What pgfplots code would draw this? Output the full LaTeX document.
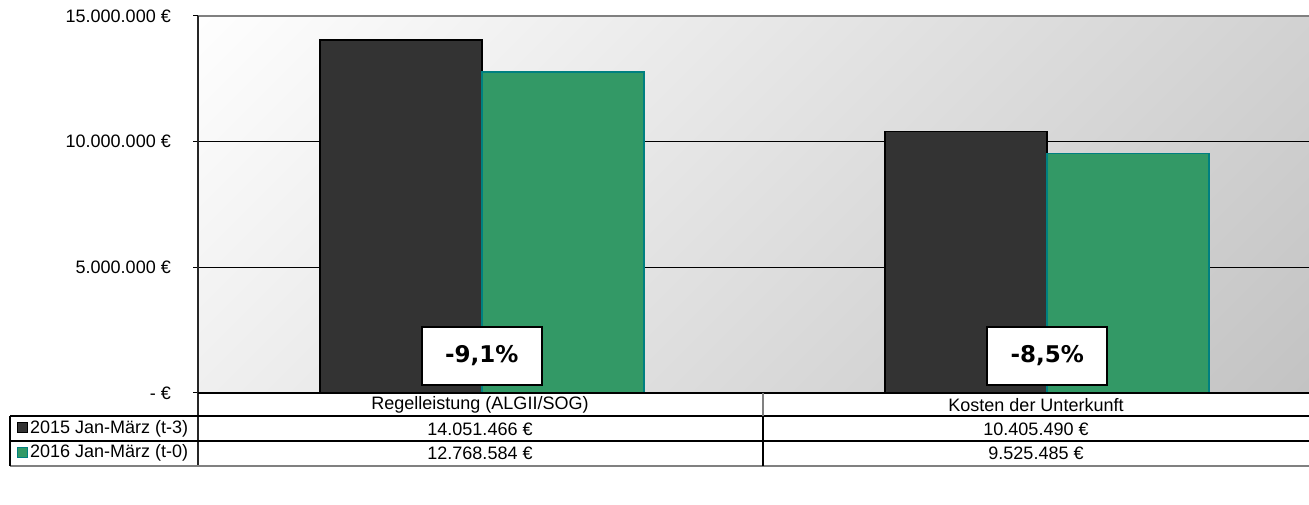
\documentclass[border=0pt]{standalone}
\usepackage{fontspec}
\setmainfont{Liberation Sans}
\newfontfamily\verd{DejaVu Sans}
\usepackage{pgfplots}
\pgfplotsset{compat=1.18}
\definecolor{darkbar}{HTML}{333333}
\definecolor{greenbar}{HTML}{339966}
\definecolor{tealedge}{HTML}{008080}
\definecolor{bgdark}{HTML}{C3C3C3}
\definecolor{bglight}{HTML}{FEFEFE}
\pgfdeclareverticalshading{diagbg}{100bp}{color(0bp)=(bgdark); color(14.6bp)=(bgdark); color(85.4bp)=(bglight); color(100bp)=(bglight)}
\begin{document}
\begin{tikzpicture}[x=1pt,y=1pt,font=\fontsize{18}{21}\selectfont]
\path[use as bounding box] (0,0) rectangle (1309,505);
\begin{axis}[
 at={(198pt,112pt)}, anchor=south west,
 scale only axis, width=1111pt, height=377pt,
 xmin=-0.502, xmax=1.463, ymin=0, ymax=15000000,
 ybar=0pt, bar width=162pt,
 xtick=\empty,
 scaled y ticks=false,
 ytick={0,5000000,10000000,15000000},
 yticklabels={- €, 5.000.000 €, 10.000.000 €, 15.000.000 €},
 yticklabel style={font=\fontsize{18}{21}\selectfont, anchor=east, inner sep=0pt, xshift=-22pt},
 ytick pos=left, tick align=outside, major tick length=5pt,
 ytick style={black, line width=1pt},
 axis line style={draw=none},
 ymajorgrids, grid style={black, line width=1.2pt},
 axis background/.style={shading=diagbg, shading angle=45},
 clip=false,
]
\addplot[fill=darkbar, draw=black, line width=1.5pt] coordinates {(0,14051466) (1,10405490)};
\addplot[fill=greenbar, draw=tealedge, line width=1.5pt] coordinates {(0,12768584) (1,9525485)};
\node[draw=black, line width=1.5pt, fill=white, minimum width=120pt, minimum height=58pt, font=\verd\bfseries\fontsize{23}{25}\selectfont] at (axis cs:0,1470000) {-9,1\%};
\node[draw=black, line width=1.5pt, fill=white, minimum width=120pt, minimum height=58pt, font=\verd\bfseries\fontsize{23}{25}\selectfont] at (axis cs:1,1470000) {-8,5\%};
\end{axis}
% axis frame
\draw[gray, line width=1.8pt] (198,489) -- (1309,489);
\draw[black!85, line width=1.5pt] (198,489) -- (198,39);
\draw[black, line width=1.5pt] (198,112) -- (1309,112);
% data table
\draw[black, line width=1.3pt] (10,89) -- (1309,89);
\draw[black, line width=1.3pt] (10,64) -- (1309,64);
\draw[gray, line width=1.5pt] (10,39) -- (1309,39);
\draw[black, line width=1.3pt] (10,89) -- (10,39);
\draw[gray, line width=1.3pt] (763,112) -- (763,89);
\draw[black, line width=1.8pt] (763,89) -- (763,39);
\node at (480,100) {Regelleistung (ALGII/SOG)};
\node at (1036,100) {Kosten der Unterkunft};
\node at (480,76) {14.051.466 €};
\node at (1036,76) {10.405.490 €};
\node at (480,51.5) {12.768.584 €};
\node at (1036,51.5) {9.525.485 €};
\draw[black, fill=darkbar, line width=1pt] (17,72) rectangle (27,82);
\draw[tealedge, fill=greenbar, line width=1pt] (17,47) rectangle (27,57);
\node[anchor=west, inner sep=0pt] at (30,76.5) {2015 Jan-März (t-3)};
\node[anchor=west, inner sep=0pt] at (30,52) {2016 Jan-März (t-0)};
\end{tikzpicture}
\end{document}
